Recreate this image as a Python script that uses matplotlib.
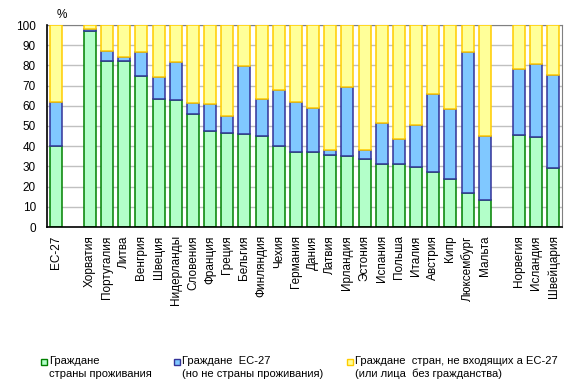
import matplotlib
matplotlib.use("Agg")
import matplotlib.pyplot as plt
from matplotlib.patches import Rectangle

plt.rcParams["font.family"] = ["Liberation Sans", "DejaVu Sans"]

# data (%), None marks an empty separator slot
countries = ["ЕС-27", None, "Хорватия", "Португалия", "Литва", "Венгрия", "Швеция",
             "Нидерланды", "Словения", "Франция", "Греция", "Бельгия", "Финляндия",
             "Чехия", "Германия", "Дания", "Латвия", "Ирландия", "Эстония", "Испания",
             "Польша", "Италия", "Австрия", "Кипр", "Люксембург", "Мальта", None,
             "Норвегия", "Исландия", "Швейцария"]
citizens = [40.2, None, 97.0, 82.3, 82.3, 74.9, 63.5, 63.0, 56.1, 47.4, 46.4, 45.9,
            44.9, 39.9, 37.0, 37.0, 35.5, 35.0, 33.5, 31.0, 31.0, 29.5, 27.1, 23.6,
            16.7, 13.2, None, 45.4, 44.4, 29.0]
eu27 = [21.8, None, 1.0, 4.8, 1.9, 11.9, 10.9, 18.8, 5.3, 13.6, 8.4, 34.0, 18.6,
        28.1, 25.0, 22.1, 2.8, 34.5, 4.8, 20.3, 12.4, 21.2, 38.9, 35.0, 70.1, 32.0,
        None, 33.0, 36.5, 46.4]

legend_labels = ["Граждане\nстраны проживания",
                 "Граждане  ЕС-27\n(но не страны проживания)",
                 "Граждане  стран, не входящих а ЕС-27\n(или лица  без гражданства)"]

green_fc, green_ec = "#B3FFC9", "#008000"
blue_fc, blue_ec = "#80C8FF", "#333399"
yellow_fc, yellow_ec = "#FFFF99", "#FFCC00"

W, H = 577, 390
fig = plt.figure(figsize=(W / 100, H / 100), dpi=100)
ax = fig.add_axes([47 / W, 163 / H, 515 / W, 202 / H])

xs, g, b, y = [], [], [], []
for i, (name, c, e) in enumerate(zip(countries, citizens, eu27)):
    if name is None:
        continue
    xs.append(i)
    g.append(c)
    b.append(e)
    y.append(100 - c - e)

bottom_b = g
bottom_y = [c + e for c, e in zip(g, b)]
w = 0.7
ax.bar(xs, g, width=w, color=green_fc, edgecolor=green_ec, linewidth=1.1, zorder=3)
ax.bar(xs, b, width=w, bottom=bottom_b, color=blue_fc, edgecolor=blue_ec,
       linewidth=1.1, zorder=3)
ax.bar(xs, y, width=w, bottom=bottom_y, color=yellow_fc, edgecolor=yellow_ec,
       linewidth=1.1, zorder=3)

ax.set_xlim(-0.5, len(countries) - 0.5)
ax.set_ylim(0, 100)
ax.set_yticks(range(0, 101, 10))
ax.set_xticks(xs)
ax.set_xticklabels([n for n in countries if n is not None], rotation=90,
                   fontsize=8.5, va="top")
ax.tick_params(axis="x", length=0, labelsize=8.5, pad=6)
ax.tick_params(axis="y", length=0, labelsize=8.5, pad=8)
ax.yaxis.grid(True, color="#C0C0C0", linewidth=1, zorder=0)
ax.set_axisbelow(True)
for s in ["top", "right"]:
    ax.spines[s].set_color("#808080")
for s in ["left", "bottom"]:
    ax.spines[s].set_color("black")
    ax.spines[s].set_linewidth(1.2)
ax.spines["left"].set_zorder(4)
ax.spines["bottom"].set_zorder(4)

fig.text(62 / W, 1 - 15 / H, "%", fontsize=8.5, ha="center", va="center")

# legend drawn by hand, three entries side by side
leg_x = [41, 174, 347]
for lx, lab, fc, ec in zip(leg_x, legend_labels,
                           [green_fc, blue_fc, yellow_fc],
                           [green_ec, blue_ec, yellow_ec]):
    fig.patches.append(Rectangle((lx / W, 1 - 365 / H), 6 / W, 6 / H,
                                 facecolor=fc, edgecolor=ec, linewidth=1,
                                 transform=fig.transFigure, figure=fig))
    fig.text((lx + 8) / W, 1 - 356 / H, lab, fontsize=8, ha="left", va="top",
             linespacing=1.35)

fig.savefig("out.png", dpi=100)
